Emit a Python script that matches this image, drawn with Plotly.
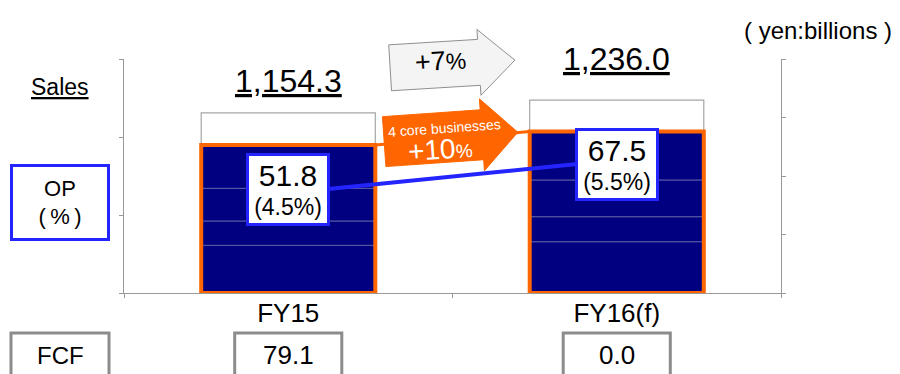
import math
import plotly.graph_objects as go

# ---------------- data ----------------
categories = ["FY15", "FY16(f)"]
sales = [1154.3, 1236.0]
core_a = [305.8, 328.8]
core_b = [155.8, 160.3]
core_c = [209.6, 235.3]
core_d = [277.6, 310.9]
op = [51.8, 67.5]
op_margin = [4.5, 5.5]
fcf = [79.1, 0.0]
sales_growth = "+7"
core_growth = "+10"
core_label = "4 core businesses"

# ---------------- style / layout ----------------
NAVY = "#000080"
ORANGE = "#FF6600"
BLUE = "#2424FF"
GRAY = "#8C8C8C"
FONT = "Arial, Liberation Sans, sans-serif"
W, H = 900, 374
L, R, T, B = 124, 119, 59, 81
PW, PH = W - L - R, H - T - B
BW = 0.53
Y2_RANGE = [4.2, 115.6]


def px(x, y):
    return ((x - L) / PW, (H - B - y) / PH)


def pxx(x):
    return (x - L) / PW


def pxy(y):
    return (H - B - y) / PH


def arrow_path(cx, cy, left, headbase, tip, bh, hh, ang):
    pts = [(left, -bh), (headbase, -bh), (headbase, -hh), (tip, 0),
           (headbase, hh), (headbase, bh), (left, bh)]
    a = math.radians(ang)
    out = []
    for x, y in pts:
        xr = x * math.cos(a) + y * math.sin(a)
        yr = -x * math.sin(a) + y * math.cos(a)
        out.append(px(cx + xr, cy + yr))
    return "M " + " L ".join(f"{p[0]:.5f},{p[1]:.5f}" for p in out) + " Z"


fig = go.Figure()

# total sales bar (white, gray outline)
fig.add_bar(x=categories, y=sales, base=[0, 0], width=BW,
            marker=dict(color="white", line=dict(color="#A6A6A6", width=1.2)),
            hoverinfo="skip", showlegend=False)

# four core businesses stacked
cum = [0.0, 0.0]
for seg in [core_a, core_b, core_c, core_d]:
    fig.add_bar(x=categories, y=seg, base=list(cum), width=BW,
                marker=dict(color=NAVY, line=dict(color="#5A5AA6", width=1)),
                showlegend=False)
    cum = [c + v for c, v in zip(cum, seg)]
core_total = cum

# orange outline around core total
fig.add_bar(x=categories, y=core_total, base=[0, 0], width=BW,
            marker=dict(color="rgba(0,0,0,0)", line=dict(color=ORANGE, width=4)),
            showlegend=False)

# OP line
fig.add_scatter(x=categories, y=op, yaxis="y2", mode="lines",
                line=dict(color=BLUE, width=4), showlegend=False)

shapes = []
# orange connector between core tops
shapes.append(dict(type="line", xref="x", yref="y",
                   x0=0 + BW / 2, y0=core_total[0], x1=1 - BW / 2, y1=core_total[1],
                   line=dict(color=ORANGE, width=3)))
# gray +7% arrow
shapes.append(dict(type="path", xref="paper", yref="paper",
                   path=arrow_path(452, 64, -62, 27, 63, 23, 33, 3.5),
                   fillcolor="#F4F4F4", line=dict(color="#8F8F8F", width=1)))
# orange +10% arrow
shapes.append(dict(type="path", xref="paper", yref="paper",
                   path=arrow_path(450, 137, -66, 32, 68, 25, 36, 4),
                   fillcolor=ORANGE, line=dict(color=ORANGE, width=1)))
# FCF boxes
shapes.append(dict(type="rect", xref="paper", yref="paper",
                   x0=pxx(11), x1=pxx(109), y0=pxy(333), y1=pxy(390),
                   line=dict(color=GRAY, width=3), fillcolor="white"))
for i in range(len(categories)):
    shapes.append(dict(type="rect", xref="x", yref="paper",
                       x0=i - 0.163, x1=i + 0.163, y0=pxy(333), y1=pxy(390),
                       line=dict(color=GRAY, width=3), fillcolor="white"))

C = dict(xanchor="center", yanchor="middle", showarrow=False)
ann = []
# sales values
sales_label_px = [81, 59]
for i, v in enumerate(sales):
    ann.append(dict(x=categories[i], xref="x", y=pxy(sales_label_px[i]), yref="paper",
                    text=f"<u>{v:,.1f}</u>",
                    font=dict(size=32, color="black", family=FONT), **C))
# OP boxes
op_shift = [4, -4]
for i, v in enumerate(op):
    ann.append(dict(x=categories[i], xref="x", y=v, yref="y2", yshift=op_shift[i],
                    text=f"<span style='font-size:30px'>{v:.1f}</span><br>({op_margin[i]:.1f}%)",
                    font=dict(size=23, color="black", family=FONT),
                    bgcolor="white", bordercolor=BLUE, borderwidth=3, borderpad=0,
                    width=78, height=67, valign="middle", **C))
# FCF values
for i, v in enumerate(fcf):
    ann.append(dict(x=categories[i], xref="x", y=pxy(355), yref="paper",
                    text=f"{v:.1f}",
                    font=dict(size=26, color="black", family=FONT), **C))
# left labels
ann.append(dict(x=pxx(60), y=pxy(87), xref="paper", yref="paper",
                text="<u>Sales</u>",
                font=dict(size=23, color="black", family=FONT), **C))
ann.append(dict(x=pxx(60), y=pxy(202), xref="paper", yref="paper",
                text="OP<br>(\u2009%\u2009)",
                font=dict(size=22, color="black", family=FONT),
                bgcolor="white", bordercolor=BLUE, borderwidth=3, borderpad=0,
                width=94, height=71, **C))
ann.append(dict(x=pxx(60), y=pxy(355), xref="paper", yref="paper",
                text="FCF",
                font=dict(size=24, color="black", family=FONT), **C))
ann.append(dict(x=pxx(818), y=pxy(30), xref="paper", yref="paper",
                text="( yen:billions )",
                font=dict(size=24, color="black", family=FONT), **C))
# arrow texts
ann.append(dict(x=pxx(440.5), y=pxy(61.5), xref="paper", yref="paper",
                text=f"{sales_growth}<span style='font-size:23px'>%</span>",
                textangle=-3.5,
                font=dict(size=27, color="black", family=FONT), **C))
ann.append(dict(x=pxx(444), y=pxy(128), xref="paper", yref="paper",
                text=core_label, textangle=-4,
                font=dict(size=14, color="white", family=FONT), **C))
ann.append(dict(x=pxx(440), y=pxy(149), xref="paper", yref="paper",
                text=f"{core_growth}<span style='font-size:19px'>%</span>",
                textangle=-4,
                font=dict(size=28, color="white", family=FONT), **C))

y2_ticks = [Y2_RANGE[0] + k * (Y2_RANGE[1] - Y2_RANGE[0]) / 4 for k in range(5)]

fig.update_layout(
    width=W, height=H,
    margin=dict(l=L, r=R, t=T, b=B, pad=0),
    paper_bgcolor="white", plot_bgcolor="white",
    barmode="overlay",
    showlegend=False,
    font=dict(family=FONT, color="black"),
    shapes=shapes,
    annotations=ann,
    xaxis=dict(type="category", range=[-0.5, 1.5], showline=True, linecolor="#999999",
               linewidth=1, ticks="outside", tickson="boundaries", ticklen=4,
               tickcolor="#999999", showgrid=False, zeroline=False,
               ticklabelstandoff=-3,
               tickfont=dict(size=26, color="black", family=FONT)),
    yaxis=dict(range=[0, 1500], tickvals=[0, 500, 1000, 1500], showticklabels=False,
               showline=True, linecolor="#999999", linewidth=1, ticks="outside",
               ticklen=4, tickcolor="#999999", showgrid=False, zeroline=False),
    yaxis2=dict(range=Y2_RANGE, overlaying="y", side="right", tickvals=y2_ticks,
                showticklabels=False, showline=True, linecolor="#999999", linewidth=1,
                ticks="outside", ticklen=4, tickcolor="#999999", showgrid=False,
                zeroline=False),
)

fig.write_html("out.html")
